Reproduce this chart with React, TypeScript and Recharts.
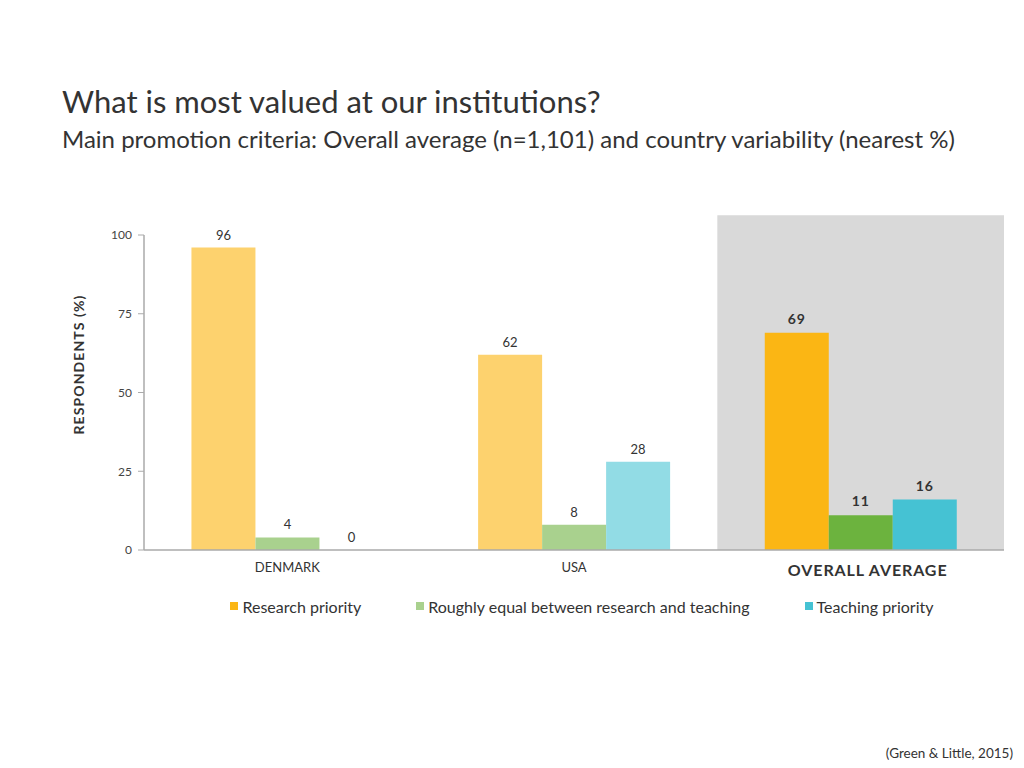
import React from 'react';
import { BarChart, Bar, XAxis, YAxis, Cell, LabelList, Legend, ReferenceArea } from 'recharts';

const categories = ['DENMARK', 'USA', 'OVERALL AVERAGE'];
const researchPriority = [96, 62, 69];
const roughlyEqual = [4, 8, 11];
const teachingPriority = [0, 28, 16];
const yTicks = [0, 25, 50, 75, 100];
const seriesNames = ['Research priority', 'Roughly equal between research and teaching', 'Teaching priority'];

const data = categories.map((c, i) => ({
  category: c,
  research: researchPriority[i],
  equal: roughlyEqual[i],
  teaching: teachingPriority[i],
}));

const FONT = 'Lato, "Open Sans", sans-serif';
const TEXT = '#333333';
const AXIS = '#AAAAAA';
const HIGHLIGHT_INDEX = 2;
const HIGHLIGHT_TOP = 106.3;

const series = [
  { key: 'research', name: seriesNames[0], light: '#FDD26E', strong: '#FBB614', legend: '#FBB614' },
  { key: 'equal', name: seriesNames[1], light: '#A9D18E', strong: '#6CB33E', legend: '#A9D18E' },
  { key: 'teaching', name: seriesNames[2], light: '#92DCE5', strong: '#45C2D3', legend: '#45C2D3' },
];

const BarLabel = (props: any) => {
  const { x, y, width, value, index } = props;
  const hl = index === HIGHLIGHT_INDEX;
  return (
    <text
      x={Number(x) + Number(width) / 2}
      y={Number(y) - (hl ? 9 : 8)}
      textAnchor="middle"
      fontFamily={FONT}
      fontSize={hl ? 14 : 13}
      fontWeight={hl ? 700 : 400}
      fill={TEXT}
      letterSpacing={hl ? 1 : 0}
    >
      {value}
    </text>
  );
};

const XTick = (props: any) => {
  const { x, y, payload, index } = props;
  const hl = index === HIGHLIGHT_INDEX;
  return (
    <text
      x={x + (hl ? 7 : 0)}
      y={y + (hl ? 26 : 22)}
      textAnchor="middle"
      fontFamily={FONT}
      fontSize={hl ? 16 : 13}
      fontWeight={hl ? 700 : 400}
      letterSpacing={hl ? 0.9 : 0}
      fill={TEXT}
    >
      {payload.value}
    </text>
  );
};

const YLabel = (props: any) => {
  const { viewBox } = props;
  const cx = viewBox.x + 7;
  const cy = viewBox.y + viewBox.height / 2 - 28;
  return (
    <text
      x={cx}
      y={cy}
      transform={`rotate(-90 ${cx} ${cy})`}
      textAnchor="middle"
      dominantBaseline="central"
      fontFamily={FONT}
      fontSize={14}
      fontWeight={700}
      letterSpacing={1.1}
      fill={TEXT}
    >
      RESPONDENTS (%)
    </text>
  );
};

const LegendContent = () => (
  <div
    style={{
      display: 'flex',
      justifyContent: 'center',
      alignItems: 'center',
      gap: 55,
      paddingLeft: 140,
      boxSizing: 'border-box',
      width: 1024,
      height: 20,
      fontFamily: FONT,
      fontSize: 16,
      color: TEXT,
      whiteSpace: 'nowrap',
    }}
  >
    {series.map((s) => (
      <div key={s.key} style={{ display: 'flex', alignItems: 'center' }}>
        <span style={{ display: 'inline-block', width: 8, height: 8, background: s.legend, marginRight: 4 }} />
        <span>{s.name}</span>
      </div>
    ))}
  </div>
);

export default function App() {
  return (
    <div style={{ position: 'absolute', left: 0, top: 0, width: 1024, height: 768, background: '#fff', fontFamily: FONT, overflow: 'hidden' }}>
      <BarChart
        width={1024}
        height={768}
        data={data}
        margin={{ top: 235, right: 20, left: 71, bottom: 158 }}
        barCategoryGap="16.55%"
        barGap={0}
      >
        <ReferenceArea
          x1="OVERALL AVERAGE"
          x2="OVERALL AVERAGE"
          y1={0}
          y2={HIGHLIGHT_TOP}
          fill="#D9D9D9"
          fillOpacity={1}
          stroke="none"
          ifOverflow="visible"
        />
        <XAxis
          dataKey="category"
          tickLine={false}
          tickSize={0}
          tickMargin={0}
          axisLine={{ stroke: AXIS, strokeWidth: 1.5 }}
          height={40}
          tick={<XTick />}
          interval={0}
        />
        <YAxis
          width={73}
          domain={[0, 100]}
          ticks={yTicks}
          tickSize={6}
          tickMargin={6}
          axisLine={{ stroke: AXIS, strokeWidth: 1.5 }}
          tickLine={{ stroke: AXIS }}
          tick={{ fontSize: 12, fill: '#444', fontFamily: FONT }}
          label={<YLabel />}
        />
        <Legend
          verticalAlign="bottom"
          wrapperStyle={{ top: 596, bottom: 'auto', left: 0, width: 1024, height: 20 }}
          content={<LegendContent />}
        />
        {series.map((s) => (
          <Bar key={s.key} dataKey={s.key} name={s.name} minPointSize={0.01} isAnimationActive={false}>
            {data.map((_, i) => (
              <Cell key={i} fill={i === HIGHLIGHT_INDEX ? s.strong : s.light} />
            ))}
            <LabelList dataKey={s.key} content={<BarLabel />} />
          </Bar>
        ))}
      </BarChart>
      <div style={{ position: 'absolute', left: 62, top: 82, fontSize: 31, lineHeight: '38px', color: TEXT, whiteSpace: 'nowrap' }}>
        What is most valued at our institutions?
      </div>
      <div style={{ position: 'absolute', left: 62, top: 124, fontSize: 24, lineHeight: '30px', color: TEXT, whiteSpace: 'nowrap' }}>
        Main promotion criteria: Overall average (n=1,101) and country variability (nearest %)
      </div>
      <div style={{ position: 'absolute', right: 11, top: 744, fontSize: 13.5, lineHeight: '18px', color: TEXT, whiteSpace: 'nowrap' }}>
        (Green &amp; Little, 2015)
      </div>
    </div>
  );
}
